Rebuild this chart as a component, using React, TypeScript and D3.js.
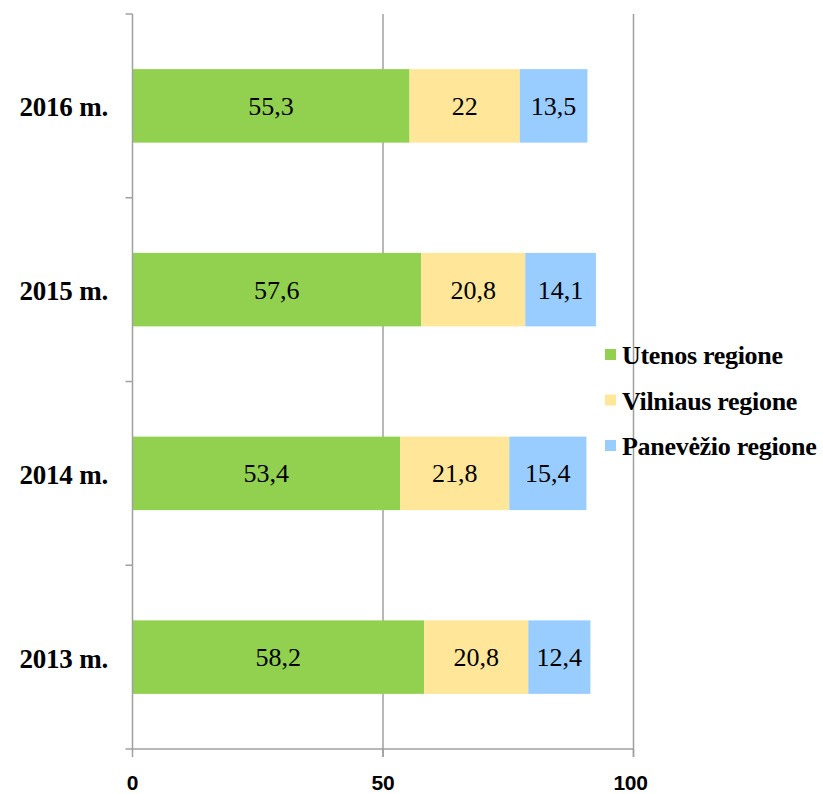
import React from "react";
import * as d3 from "d3";

const categories = ["2016 m.", "2015 m.", "2014 m.", "2013 m."];
const seriesNames = ["Utenos regione", "Vilniaus regione", "Panevėžio regione"];
const utenos = [55.3, 57.6, 53.4, 58.2];
const vilniaus = [22, 20.8, 21.8, 20.8];
const panevezio = [13.5, 14.1, 15.4, 12.4];
const xTicks = [0, 50, 100];
const colors = ["#92D050", "#FFE699", "#99CCFF"];

const SERIF = "Liberation Serif";
const SANS = "Liberation Sans";

export default function App() {
  const W = 823, H = 794;
  const left = 132.5, right = 633.5, top = 14, bottom = 749;
  const x = d3.scaleLinear().domain([0, 100]).range([left, right]);
  const y = d3.scaleBand().domain(categories).range([top, bottom]).paddingInner(0.6).paddingOuter(0.3);
  const yOuter = d3.scaleBand().domain(categories).range([top, bottom]);
  const rows = categories.map((c, i) => ({ cat: c, values: [utenos[i], vilniaus[i], panevezio[i]] }));
  const stackData = categories.map((c, i) => ({ cat: c, s0: utenos[i], s1: vilniaus[i], s2: panevezio[i] }));
  const stack = d3.stack<any>().keys(["s0", "s1", "s2"])(stackData);
  const fmt = (v: number) => String(v).replace(".", ",");
  const axisColor = "#A0A0A0";
  const boundaries = categories.map((c) => yOuter(c) as number).concat([bottom]);

  return (
    <svg width={W} height={H} style={{ position: "absolute", left: 0, top: 0, background: "#fff" }}>
      {xTicks.slice(1).map((t) => (
        <line key={"g" + t} x1={x(t)} x2={x(t)} y1={top} y2={bottom + 8} stroke={axisColor} strokeWidth={1.5} />
      ))}
      {stack.map((layer, si) =>
        layer.map((d, i) => (
          <rect key={si + "-" + i} x={x(d[0])} y={y(categories[i])} width={x(d[1]) - x(d[0])} height={y.bandwidth()} fill={colors[si]} />
        ))
      )}
      {stack.map((layer, si) =>
        layer.map((d, i) => (
          <text key={"l" + si + "-" + i} x={(x(d[0]) + x(d[1])) / 2} y={(y(categories[i]) as number) + y.bandwidth() / 2} dy="0.35em" textAnchor="middle" fontFamily={SERIF} fontSize={26} fill="#000">
            {fmt(rows[i].values[si])}
          </text>
        ))
      )}
      <line x1={left} x2={left} y1={top} y2={bottom} stroke={axisColor} strokeWidth={1.5} />
      {boundaries.map((b, i) => (
        <line key={"yt" + i} x1={left - 7} x2={left} y1={b} y2={b} stroke={axisColor} strokeWidth={1.5} />
      ))}
      <line x1={left} x2={right} y1={bottom} y2={bottom} stroke={axisColor} strokeWidth={1.5} />
      {xTicks.map((t) => (
        <line key={"xt" + t} x1={x(t)} x2={x(t)} y1={bottom} y2={bottom + 8} stroke={axisColor} strokeWidth={1.5} />
      ))}
      {xTicks.map((t) => (
        <text key={"xl" + t} x={x(t) - (t === 100 ? 3 : 0)} y={790} textAnchor="middle" fontFamily={SANS} fontWeight="bold" fontSize={21} letterSpacing={-0.3} fill="#000">
          {t}
        </text>
      ))}
      {categories.map((c) => (
        <text key={"c" + c} x={108} y={(yOuter(c) as number) + yOuter.bandwidth() / 2 + 1} dy="0.35em" textAnchor="end" fontFamily={SERIF} fontWeight="bold" fontSize={27} letterSpacing={-0.2} fill="#000">
          {c}
        </text>
      ))}
      {seriesNames.map((s, i) => (
        <g key={"lg" + s} transform={`translate(605, ${355 + i * 45.5})`}>
          <rect x={0} y={-6} width={11} height={11} fill={colors[i]} />
          <text x={17} y={0} dy="0.35em" fontFamily={SERIF} fontWeight="bold" fontSize={26} letterSpacing={-0.3} fill="#000">
            {s}
          </text>
        </g>
      ))}
    </svg>
  );
}
